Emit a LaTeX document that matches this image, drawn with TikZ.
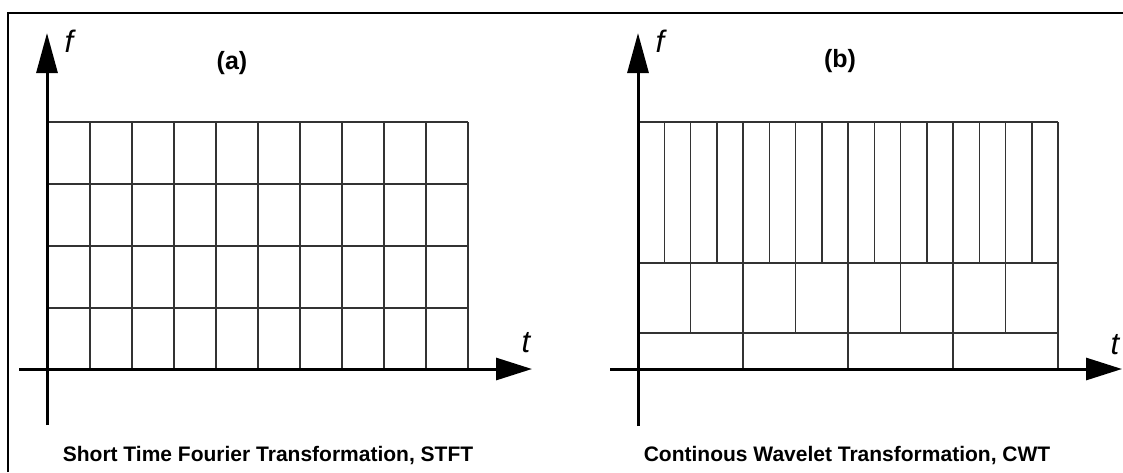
\documentclass[tikz,border=0pt]{standalone}
\usepackage{fontspec}
\setmainfont{Liberation Sans}
\usetikzlibrary{arrows.meta}
\begin{document}
\begin{tikzpicture}[x=1pt,y=-1pt,
  axis/.style={line width=3pt,-{Triangle[length=36pt,width=22pt]}},
  vaxis/.style={line width=3pt,-{Triangle[length=40pt,width=21pt]}},
  cell/.style={line width=1.5pt,draw=black!80},
  frameline/.style={line width=2pt},
  axlabel/.style={font=\itshape\fontsize{31}{31}\selectfont,inner sep=0pt},
  panel/.style={font=\bfseries\fontsize{25}{25}\selectfont,inner sep=0pt},
  caption/.style={font=\bfseries\fontsize{21}{21}\selectfont,inner sep=0pt,anchor=base}]
\useasboundingbox (0,0) rectangle (1123,472);
\fill[white] (0,0) rectangle (1123,472);

% outer frame (top and left edges)
\draw[frameline] (8,472) -- (8,13) -- (1123,13);

% ---------- (a) STFT: uniform tiling ----------
\foreach \i in {1,...,10} {
  \draw[cell] ({48+42*\i},122) -- ({48+42*\i},369);
}
\foreach \y in {122,184,246,308} {
  \draw[cell] (48,\y) -- (468,\y);
}
\coordinate (ay0) at (47,425);
\coordinate (ay1) at (47,33);
\coordinate (ax0) at (19,369);
\coordinate (ax1) at (532,369);
\draw[vaxis] (ay0) -- (ay1);
\draw[axis] (ax0) -- (ax1);
\node[axlabel] (af) at (69,41) {f};
\node[axlabel] (at) at (526,343) {t};
\node[panel] (alab) at (232,63) {(a)};
\node[caption] (acap) at (268,461) {Short Time Fourier Transformation, STFT};

% ---------- (b) CWT: dyadic tiling ----------
\foreach \y in {122,263,333} {
  \draw[cell] (638,\y) -- (1058,\y);
}
\foreach \i in {1,...,16} {
  \draw[cell] ({638+26.25*\i},122) -- ({638+26.25*\i},263);
}
\foreach \i in {1,...,8} {
  \draw[cell] ({638+52.5*\i},263) -- ({638+52.5*\i},333);
}
\foreach \i in {1,...,4} {
  \draw[cell] ({638+105*\i},333) -- ({638+105*\i},369);
}
\coordinate (by0) at (638,426);
\coordinate (by1) at (638,33);
\coordinate (bx0) at (610,369);
\coordinate (bx1) at (1122,369);
\draw[vaxis] (by0) -- (by1);
\draw[axis] (bx0) -- (bx1);
\node[axlabel] (bf) at (660,41) {f};
\node[axlabel] (bt) at (1115,345) {t};
\node[panel] (blab) at (840,61) {(b)};
\node[caption] (bcap) at (847,461) {Continous Wavelet Transformation, CWT};
\end{tikzpicture}
\end{document}
